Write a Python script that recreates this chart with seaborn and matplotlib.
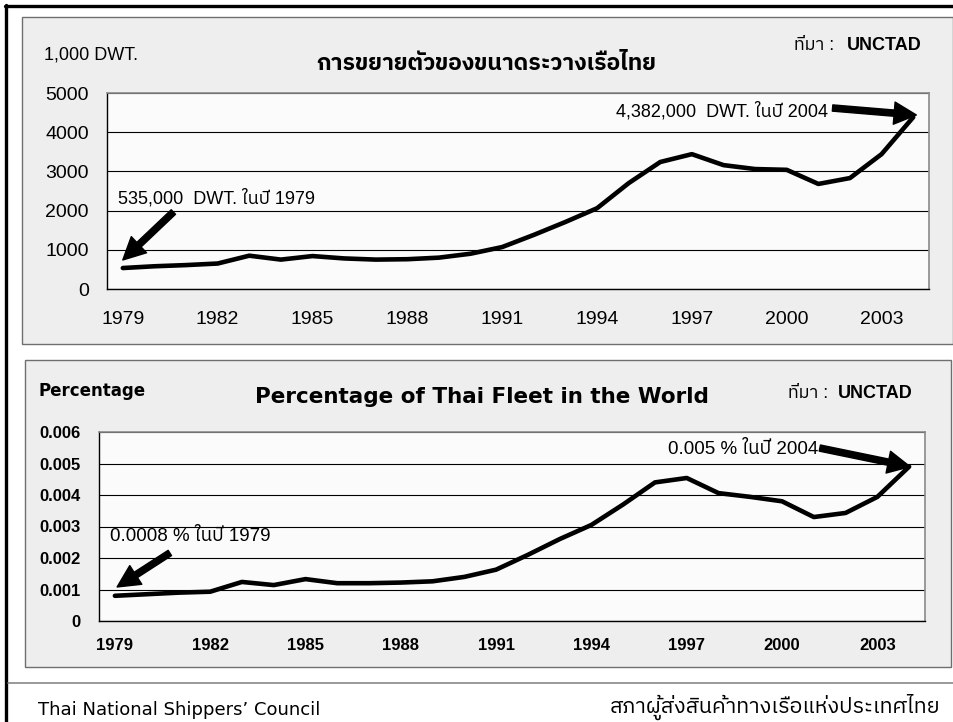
import numpy as np
import matplotlib
matplotlib.use("Agg")
import matplotlib.pyplot as plt
import seaborn as sns
from matplotlib import font_manager, ft2font
from matplotlib.patches import Rectangle
from matplotlib.lines import Line2D

# ข้อมูลจากภาพ (UNCTAD)
years = list(range(1979, 2005))
dwt_thousand = [535, 580, 610, 650, 850, 750, 840, 780, 750, 760, 800, 900, 1070,
                1380, 1710, 2060, 2700, 3240, 3440, 3160, 3060, 3040, 2680, 2830,
                3440, 4382]
pct_world = [0.0008, 0.00085, 0.0009, 0.00093, 0.00124, 0.00114, 0.00133, 0.0012,
             0.0012, 0.00122, 0.00126, 0.0014, 0.00163, 0.0021, 0.0026, 0.00305,
             0.0037, 0.0044, 0.00454, 0.00406, 0.00394, 0.0038, 0.0033, 0.00343,
             0.00394, 0.0049]
label_years = years[::3]

W, H = 954, 722


# หาฟอนต์ที่มีอักษรไทย (เลือกตัวที่มีตัวหนาก่อน)
def find_thai_font():
    found = {}
    for f in font_manager.fontManager.ttflist:
        try:
            if 0x0E01 in ft2font.FT2Font(f.fname).get_charmap():
                found.setdefault(f.name, []).append(f.weight)
        except Exception:
            pass
    if not found:
        return "DejaVu Sans"

    def has_bold(w):
        return any((isinstance(x, int) and x >= 600) or x in ("bold", "heavy", "black") for x in w)

    names = sorted(found, key=lambda n: (not has_bold(found[n]), "Sans" not in n, n))
    return names[0]


THAI = find_thai_font()


def fx(x):
    return x / W


def fy(y):
    return 1 - y / H


def style_axes(ax, ymax, ystep, yfmt, font, xpad, ypad):
    ax.set_xlim(1978.5, 2004.5)
    ax.set_ylim(0, ymax)
    ax.set_xticks(np.arange(years[0] - 0.5, years[-1] + 1, 1))
    ax.set_xticklabels([])
    ax.set_xticks(label_years, minor=True)
    ax.set_xticklabels([str(y) for y in label_years], minor=True, **font)
    ax.tick_params(axis="x", which="major", direction="out", length=5, width=1, color="black")
    ax.tick_params(axis="x", which="minor", length=0, pad=xpad)
    yt = np.arange(0, ymax + ystep / 2, ystep)
    ax.set_yticks(yt)
    ax.set_yticklabels([yfmt(v) for v in yt], **font)
    ax.tick_params(axis="y", direction="out", length=5, width=1, color="black", pad=ypad)
    ax.yaxis.grid(True, color="black", lw=0.8)
    ax.xaxis.grid(False)
    ax.set_facecolor("#fbfbfb")
    for s in ["top", "right"]:
        ax.spines[s].set_color("#8a8a8a")
        ax.spines[s].set_linewidth(1.2)
    for s in ["left", "bottom"]:
        ax.spines[s].set_color("black")
        ax.spines[s].set_linewidth(1.0)
    ax.set_xlabel("")
    ax.set_ylabel("")


sns.set_theme(style="white")
plt.rcParams["font.family"] = ["DejaVu Sans", THAI]
plt.rcParams["text.color"] = "black"
plt.rcParams["xtick.color"] = "black"
plt.rcParams["ytick.color"] = "black"

fig = plt.figure(figsize=(W / 100, H / 100), dpi=100)
fig.patch.set_facecolor("white")

# กรอบพื้นหลัง
fig.add_artist(Rectangle((fx(22), fy(344)), fx(931), 327 / H, transform=fig.transFigure,
                         fc="#eeeeee", ec="#6f6f6f", lw=1.0, zorder=0))
fig.add_artist(Rectangle((fx(25), fy(667)), fx(926), 307 / H, transform=fig.transFigure,
                         fc="#eeeeee", ec="#6f6f6f", lw=1.0, zorder=0))
fig.add_artist(Line2D([fx(6.5), fx(6.5)], [0, fy(5)], transform=fig.transFigure, color="black", lw=2.4))
fig.add_artist(Line2D([fx(5), 1], [fy(6), fy(6)], transform=fig.transFigure, color="black", lw=2.4))
fig.add_artist(Line2D([fx(8), 1], [fy(683), fy(683)], transform=fig.transFigure, color="#888888", lw=1.2))

arrow = dict(facecolor="black", edgecolor="black", width=4.5, headwidth=16, headlength=16, shrink=0)

# กราฟบน: ขนาดระวางเรือ
ax1 = fig.add_axes([fx(107), fy(289), fx(822), 196 / H])
sns.lineplot(x=years, y=dwt_thousand, ax=ax1, color="black", lw=3.3, solid_joinstyle="round")
style_axes(ax1, 5000, 1000, lambda v: f"{int(v)}",
           dict(family=["Liberation Sans", THAI], fontsize=14), xpad=16, ypad=8)

font_ann = dict(family=["Liberation Sans", THAI], fontsize=13, color="black")
ax1.text(1978.85, 2321, "535,000  DWT. ในปี 1979", ha="left", va="center", **font_ann)
ax1.annotate("", xy=(years[0], dwt_thousand[0] + 205), xytext=(1980.6, 1964), arrowprops=arrow)
ax1.text(2001.3, 4541, "4,382,000  DWT. ในปี 2004", ha="right", va="center", **font_ann)
ax1.annotate("", xy=(2004.1, dwt_thousand[-1] + 57), xytext=(2001.45, 4617), arrowprops=arrow,
             annotation_clip=False)

fig.text(fx(44), fy(55), "1,000 DWT.", ha="left", va="center", family="Liberation Sans", fontsize=13)
fig.text(fx(486), fy(63), "การขยายตัวของขนาดระวางเรือไทย", ha="center", va="center",
         family=[THAI], fontsize=16.5, fontweight="bold")
fig.text(fx(922), fy(45), "UNCTAD", ha="right", va="center", family="Liberation Sans",
         fontsize=13, fontweight="bold")
fig.text(fx(834), fy(45), "ที่มา :", ha="right", va="center", family=["Liberation Sans", THAI],
         fontsize=13)

# กราฟล่าง: สัดส่วนกองเรือไทยในโลก
ax2 = fig.add_axes([fx(99), fy(621), fx(826), 189 / H])
sns.lineplot(x=years, y=pct_world, ax=ax2, color="black", lw=3.3, solid_joinstyle="round")
style_axes(ax2, 0.006, 0.001, lambda v: "0" if v == 0 else f"{v:.3f}",
           dict(family="Liberation Sans", fontsize=12, fontweight="bold"), xpad=12, ypad=8)

font_ann2 = dict(family=["Liberation Sans", THAI], fontsize=13.5, color="black")
ax2.text(1978.85, 0.00267, "0.0008 % ในปี 1979", ha="left", va="center", **font_ann2)
ax2.annotate("", xy=(1979.07, pct_world[0] + 0.00028), xytext=(1980.73, 0.00216), arrowprops=arrow)
ax2.text(2001.13, 0.00546, "0.005 % ในปี 2004", ha="right", va="center", **font_ann2)
ax2.annotate("", xy=(2004.03, pct_world[-1]), xytext=(2001.19, 0.00549), arrowprops=arrow,
             annotation_clip=False)

fig.text(fx(39), fy(391), "Percentage", ha="left", va="center", family="DejaVu Sans",
         fontsize=12, fontweight="bold")
fig.text(fx(482), fy(397), "Percentage of Thai Fleet in the World", ha="center", va="center",
         family="DejaVu Sans", fontsize=15.5, fontweight="bold")
fig.text(fx(913), fy(393), "UNCTAD", ha="right", va="center", family="Liberation Sans",
         fontsize=13, fontweight="bold")
fig.text(fx(828), fy(393), "ที่มา :", ha="right", va="center", family=["Liberation Sans", THAI],
         fontsize=13)

# ท้ายหน้า
fig.text(fx(38), fy(710), "Thai National Shippers’ Council", ha="left", va="center",
         family="DejaVu Sans", fontsize=13)
fig.text(fx(940), fy(707), "สภาผู้ส่งสินค้าทางเรือแห่งประเทศไทย", ha="right", va="center",
         family=[THAI, "DejaVu Sans"], fontsize=15.5)

fig.savefig("out.png", dpi=100)
